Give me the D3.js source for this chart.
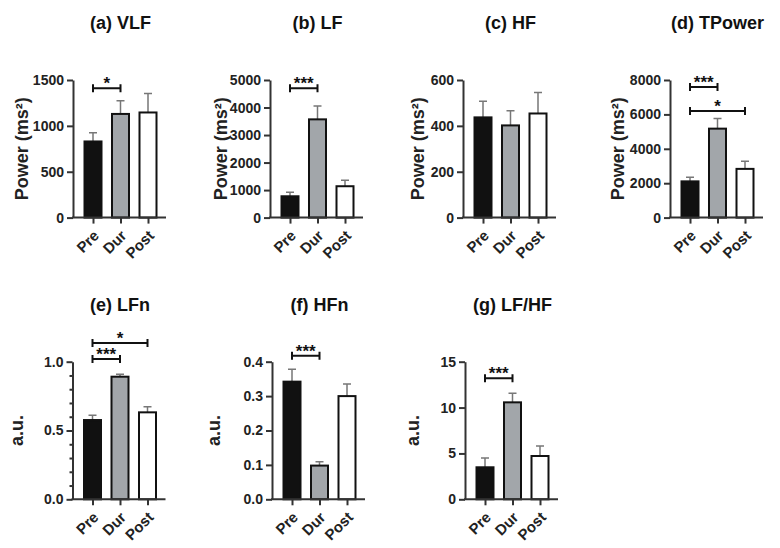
<!DOCTYPE html>
<html lang="en">
<head>
    <meta charset="UTF-8">
    <title>HRV bars</title>
    <style>
        body { margin: 0; background: #fff; }
        svg { display: block; font-family: "Liberation Sans", Arial, sans-serif; }
        .tick text { font-size: 14px; font-weight: bold; fill: #222; }
        .domain, .tick line { stroke: #333; stroke-width: 2px; }
    </style>
</head>
<body>
    <div id="graphic"></div>

    <script src="https://cdn.jsdelivr.net/npm/d3@7"></script>
    <script>
        var width = 780;
        var height = 548;

        // data
        var cats = ['Pre', 'Dur', 'Post'];
        var titles = ['(a) VLF', '(b) LF', '(c) HF', '(d) TPower', '(e) LFn', '(f) HFn', '(g) LF/HF'];
        var yLabels = ['Power (ms²)', 'Power (ms²)', 'Power (ms²)', 'Power (ms²)', 'a.u.', 'a.u.', 'a.u.'];

        var vlfMean = [830, 1130, 1146];
        var vlfSem = [95, 143, 208];
        var lfMean = [775, 3570, 1140];
        var lfSem = [145, 485, 220];
        var hfMean = [437, 402, 454];
        var hfSem = [70, 64, 92];
        var tpMean = [2107, 5172, 2832];
        var tpSem = [234, 586, 445];
        var lfnMean = [0.576, 0.891, 0.632];
        var lfnSem = [0.034, 0.017, 0.041];
        var hfnMean = [0.342, 0.098, 0.300];
        var hfnSem = [0.036, 0.011, 0.035];
        var ratioMean = [3.49, 10.57, 4.72];
        var ratioSem = [1.01, 0.99, 1.09];

        var yMax = [1500, 5000, 600, 8000, 1.0, 0.4, 15];
        var yStep = [500, 1000, 200, 2000, 0.5, 0.1, 5];

        // significance pairs
        var sigVLF = [['Pre', 'Dur', '*']];
        var sigLF = [['Pre', 'Dur', '***']];
        var sigHF = [];
        var sigTP = [['Pre', 'Dur', '***'], ['Pre', 'Post', '*']];
        var sigLFn = [['Pre', 'Dur', '***'], ['Pre', 'Post', '*']];
        var sigHFn = [['Pre', 'Dur', '***']];
        var sigRatio = [['Pre', 'Dur', '***']];

        var means = [vlfMean, lfMean, hfMean, tpMean, lfnMean, hfnMean, ratioMean];
        var sems = [vlfSem, lfSem, hfSem, tpSem, lfnSem, hfnSem, ratioSem];
        var sigs = [sigVLF, sigLF, sigHF, sigTP, sigLFn, sigHFn, sigRatio];

        // panel layout: axis origin, label offset, bracket levels (in data units)
        var layout = [
            {x: 73, top: 80, labDx: 52, brk: [1410]},
            {x: 270, top: 80, labDx: 50, brk: [4700]},
            {x: 463, top: 80, labDx: 46, brk: []},
            {x: 670, top: 80, labDx: 53, brk: [7600, 6200]},
            {x: 72.5, top: 361.7, labDx: 57, brk: [1.02, 1.135]},
            {x: 272, top: 361.7, labDx: 59, brk: [0.417]},
            {x: 465, top: 361.7, labDx: 53, brk: [13.2]}
        ];
        var plotH = 137.6;
        var plotW = 93;
        var barW = 17;
        var fills = ['#111111', '#a2a6aa', '#ffffff'];

        var svg = d3.select('#graphic')
            .append('svg')
            .attr('width', width)
            .attr('height', height);

        titles.forEach(function(t, i) {
            var L = layout[i];
            var g = svg.append('g').attr('transform', 'translate(' + L.x + ',' + L.top + ')');

            var x = d3.scalePoint().domain(cats).range([20, 75]);
            var y = d3.scaleLinear().domain([0, yMax[i]]).range([plotH, 0]);
            var ticks = d3.range(0, yMax[i] + yStep[i] / 2, yStep[i]);
            var fmt = yMax[i] <= 1 ? d3.format('.1f') : d3.format('d');

            // minor ticks for LFn
            if (i == 4) {
                g.append('g')
                    .call(d3.axisLeft(y).tickValues(d3.range(0.1, 1, 0.1)).tickSize(3).tickFormat(''))
                    .select('.domain').remove();
            }

            var yAxis = g.append('g')
                .call(d3.axisLeft(y).tickValues(ticks).tickFormat(fmt).tickSize(6).tickPadding(3).tickSizeOuter(0));

            var xAxis = g.append('g')
                .attr('transform', 'translate(0,' + plotH + ')')
                .call(d3.axisBottom(x).tickSize(6).tickSizeOuter(0).tickFormat(''));

            var data = cats.map(function(c, k) { return {cat: c, m: means[i][k], s: sems[i][k], k: k}; });

            // error whiskers (upper only)
            g.selectAll('.whisk')
                .data(data)
                .join('path')
                .attr('class', 'whisk')
                .attr('d', function(d) {
                    var cx = x(d.cat);
                    return 'M' + cx + ',' + y(d.m) + 'V' + y(d.m + d.s) + 'M' + (cx - 4) + ',' + y(d.m + d.s) + 'H' + (cx + 4);
                })
                .attr('stroke', '#777')
                .attr('stroke-width', 1.5)
                .attr('fill', 'none');

            g.selectAll('.bar')
                .data(data)
                .join('rect')
                .attr('class', 'bar')
                .attr('x', function(d) { return x(d.cat) - barW / 2; })
                .attr('y', function(d) { return y(d.m); })
                .attr('width', barW)
                .attr('height', function(d) { return plotH - y(d.m); })
                .attr('fill', function(d) { return fills[d.k]; })
                .attr('stroke', '#111')
                .attr('stroke-width', 2);

            // axes on top of bars
            yAxis.raise();
            xAxis.raise();
            xAxis.selectAll('.domain').attr('d', 'M-1,0H' + plotW);

            // category labels
            g.selectAll('.cat')
                .data(cats)
                .join('text')
                .attr('class', 'cat')
                .attr('transform', function(c) { return 'translate(' + (x(c) + 7) + ',' + (plotH + 19) + ') rotate(-45)'; })
                .attr('text-anchor', 'end')
                .attr('font-size', 15)
                .attr('font-weight', 'bold')
                .attr('fill', '#222')
                .text(function(c) { return c; });

            // significance brackets
            sigs[i].forEach(function(s, j) {
                var by = y(L.brk[j]);
                var x1 = x(s[0]), x2 = x(s[1]);
                g.append('path')
                    .attr('d', 'M' + x1 + ',' + (by - 4) + 'V' + (by + 4) + 'M' + x1 + ',' + by + 'H' + x2 + 'M' + x2 + ',' + (by - 4) + 'V' + (by + 4))
                    .attr('stroke', '#111')
                    .attr('stroke-width', 2)
                    .attr('fill', 'none');
                g.append('text')
                    .attr('x', (x1 + x2) / 2)
                    .attr('y', by + 1)
                    .attr('text-anchor', 'middle')
                    .attr('font-size', 17)
                    .attr('font-weight', 'bold')
                    .attr('fill', '#111')
                    .text(s[2]);
            });

            // title
            g.append('text')
                .attr('x', x('Dur'))
                .attr('y', -51)
                .attr('text-anchor', 'middle')
                .attr('font-size', 18)
                .attr('font-weight', 'bold')
                .attr('fill', '#111')
                .text(t);

            // y label
            g.append('text')
                .attr('transform', 'translate(' + (-L.labDx + 7) + ',' + (plotH / 2) + ') rotate(-90)')
                .attr('text-anchor', 'middle')
                .attr('font-size', 18)
                .attr('font-weight', 'bold')
                .attr('fill', '#222')
                .text(yLabels[i]);
        });
    </script>
</body>
</html>
